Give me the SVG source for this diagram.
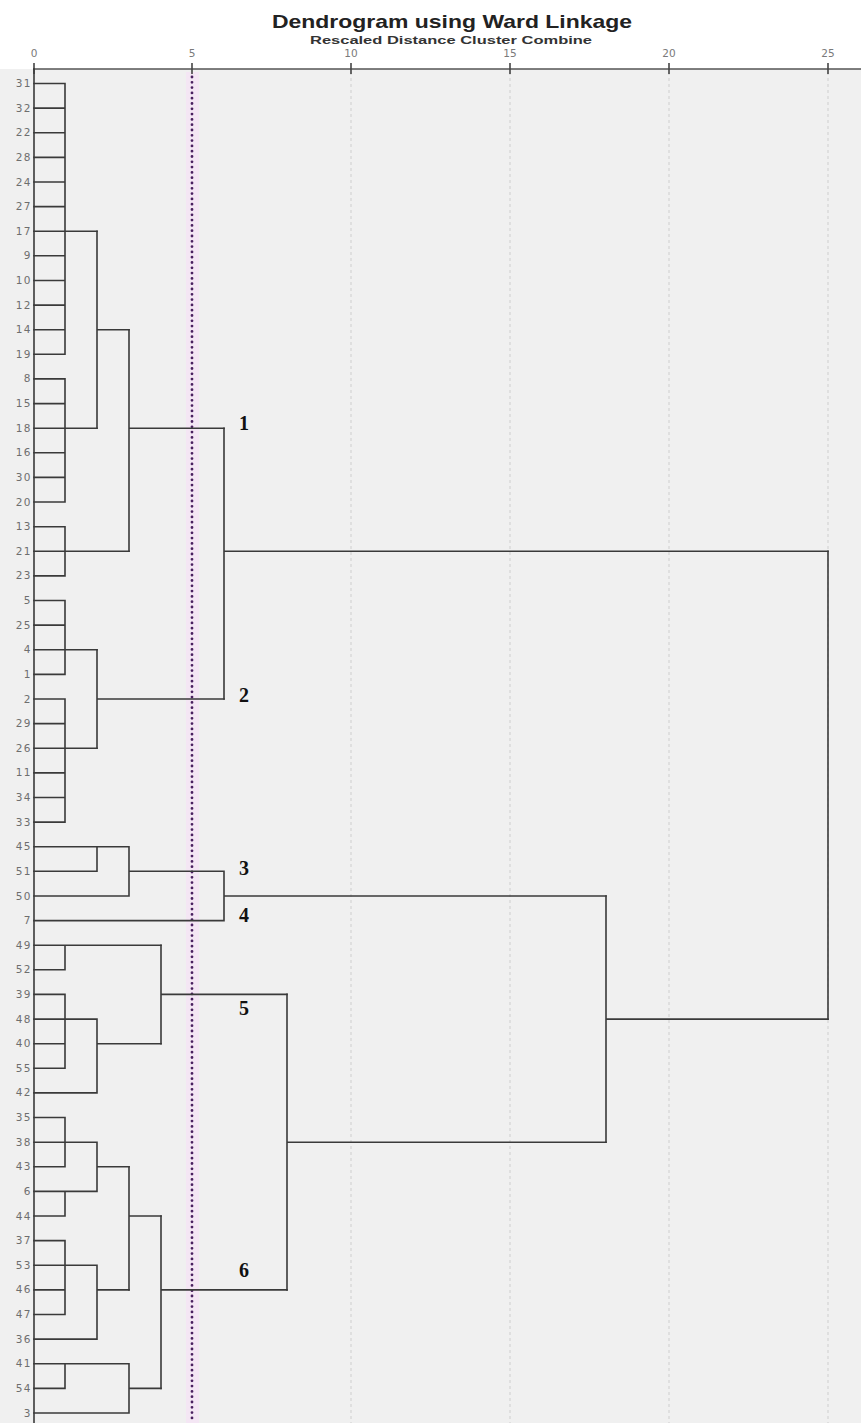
<svg xmlns="http://www.w3.org/2000/svg" width="861" height="1423" viewBox="0 0 861 1423">
<style>
.ln{stroke:#3a3a3a;stroke-width:1.6;fill:none;stroke-linecap:square}
.grid{stroke:#d4d4d4;stroke-width:1.2;stroke-dasharray:3 3;fill:none}
.leaf{font-family:"DejaVu Sans",sans-serif;font-size:10.5px;fill:#6e6e6e;text-anchor:end;letter-spacing:1.5px}
.tick{font-family:"DejaVu Sans",sans-serif;font-size:10.5px;fill:#7a7a7a;text-anchor:middle}
.cl{font-family:"Liberation Serif",serif;font-size:20px;font-weight:bold;fill:#111}
</style>
<rect x="0" y="0" width="861" height="1423" fill="#ffffff"/>
<rect x="0" y="69" width="861" height="1354" fill="#f0f0f0"/>
<g id="title">
<text x="452" y="28" font-family="Liberation Sans,Arial,sans-serif" font-size="19" font-weight="bold" fill="#222" text-anchor="middle" textLength="360" lengthAdjust="spacingAndGlyphs">Dendrogram using Ward Linkage</text>
<text x="451" y="44" font-family="Liberation Sans,Arial,sans-serif" font-size="10" font-weight="bold" fill="#333" text-anchor="middle" textLength="282" lengthAdjust="spacingAndGlyphs">Rescaled Distance Cluster Combine</text>
</g>
<g id="axis">
<line class="grid" x1="351" y1="72" x2="351" y2="1423"/>
<line class="grid" x1="510" y1="72" x2="510" y2="1423"/>
<line class="grid" x1="669" y1="72" x2="669" y2="1423"/>
<line class="grid" x1="828" y1="72" x2="828" y2="1423"/>
<rect x="186" y="72" width="13" height="1351" fill="#f4e6f4"/>
<line x1="33" y1="69" x2="861" y2="69" stroke="#555" stroke-width="1.6"/>
<g stroke="#444" stroke-width="1.6">
<line x1="34" y1="63" x2="34" y2="74"/>
<line x1="192" y1="63" x2="192" y2="74"/>
<line x1="351" y1="63" x2="351" y2="74"/>
<line x1="510" y1="63" x2="510" y2="74"/>
<line x1="669" y1="63" x2="669" y2="74"/>
<line x1="828" y1="63" x2="828" y2="74"/>
</g>
<text class="tick" x="34" y="57">0</text>
<text class="tick" x="192" y="57">5</text>
<text class="tick" x="351" y="57">10</text>
<text class="tick" x="510" y="57">15</text>
<text class="tick" x="669" y="57">20</text>
<text class="tick" x="828" y="57">25</text>
<line x1="192" y1="77" x2="192" y2="1423" stroke="#4a2060" stroke-width="2.8" stroke-linecap="round" stroke-dasharray="0 5.3"/>
</g>
<g id="leaves">
<text class="leaf" x="32" y="87">31</text>
<text class="leaf" x="32" y="111.6">32</text>
<text class="leaf" x="32" y="136.2">22</text>
<text class="leaf" x="32" y="160.9">28</text>
<text class="leaf" x="32" y="185.5">24</text>
<text class="leaf" x="32" y="210.1">27</text>
<text class="leaf" x="32" y="234.7">17</text>
<text class="leaf" x="32" y="259.3">9</text>
<text class="leaf" x="32" y="284">10</text>
<text class="leaf" x="32" y="308.6">12</text>
<text class="leaf" x="32" y="333.2">14</text>
<text class="leaf" x="32" y="357.8">19</text>
<text class="leaf" x="32" y="382.4">8</text>
<text class="leaf" x="32" y="407.1">15</text>
<text class="leaf" x="32" y="431.7">18</text>
<text class="leaf" x="32" y="456.3">16</text>
<text class="leaf" x="32" y="480.9">30</text>
<text class="leaf" x="32" y="505.5">20</text>
<text class="leaf" x="32" y="530.2">13</text>
<text class="leaf" x="32" y="554.8">21</text>
<text class="leaf" x="32" y="579.4">23</text>
<text class="leaf" x="32" y="604">5</text>
<text class="leaf" x="32" y="628.6">25</text>
<text class="leaf" x="32" y="653.3">4</text>
<text class="leaf" x="32" y="677.9">1</text>
<text class="leaf" x="32" y="702.5">2</text>
<text class="leaf" x="32" y="727.1">29</text>
<text class="leaf" x="32" y="751.7">26</text>
<text class="leaf" x="32" y="776.4">11</text>
<text class="leaf" x="32" y="801">34</text>
<text class="leaf" x="32" y="825.6">33</text>
<text class="leaf" x="32" y="850.2">45</text>
<text class="leaf" x="32" y="874.8">51</text>
<text class="leaf" x="32" y="899.5">50</text>
<text class="leaf" x="32" y="924.1">7</text>
<text class="leaf" x="32" y="948.7">49</text>
<text class="leaf" x="32" y="973.3">52</text>
<text class="leaf" x="32" y="997.9">39</text>
<text class="leaf" x="32" y="1022.6">48</text>
<text class="leaf" x="32" y="1047.2">40</text>
<text class="leaf" x="32" y="1071.8">55</text>
<text class="leaf" x="32" y="1096.4">42</text>
<text class="leaf" x="32" y="1121">35</text>
<text class="leaf" x="32" y="1145.7">38</text>
<text class="leaf" x="32" y="1170.3">43</text>
<text class="leaf" x="32" y="1194.9">6</text>
<text class="leaf" x="32" y="1219.5">44</text>
<text class="leaf" x="32" y="1244.1">37</text>
<text class="leaf" x="32" y="1268.8">53</text>
<text class="leaf" x="32" y="1293.4">46</text>
<text class="leaf" x="32" y="1318">47</text>
<text class="leaf" x="32" y="1342.6">36</text>
<text class="leaf" x="32" y="1367.2">41</text>
<text class="leaf" x="32" y="1391.9">54</text>
<text class="leaf" x="32" y="1416.5">3</text>
</g>
<g id="connectors" class="ln">
<line x1="34" y1="69" x2="34" y2="1423"/>
<path d="M34 83.5H65M34 108.1H65M34 132.7H65M34 157.4H65M34 182H65M34 206.6H65M34 231.2H65M34 255.8H65M34 280.5H65M34 305.1H65M34 329.7H65M34 354.3H65M65 83.5V354.3M65 231.2H97"/>
<path d="M34 378.9H65M34 403.6H65M34 428.2H65M34 452.8H65M34 477.4H65M34 502H65M65 378.9V502M65 428.2H97"/>
<path d="M97 231.2V428.2M97 329.7H129"/>
<path d="M34 526.7H65M34 551.3H65M34 575.9H65M65 526.7V575.9M65 551.3H129"/>
<path d="M129 329.7V551.3M129 428.2H224"/>
<path d="M34 600.5H65M34 625.1H65M34 649.8H65M34 674.4H65M65 600.5V674.4M65 649.8H97"/>
<path d="M34 699H65M34 723.6H65M34 748.2H65M34 772.9H65M34 797.5H65M34 822.1H65M65 699V822.1M65 748.2H97"/>
<path d="M97 649.8V748.2M97 699H224"/>
<path d="M224 428.2V699M224 551.3H828"/>
<path d="M34 846.7H129M34 871.3H97M97 846.7V871.3M34 896H129M129 846.7V896M129 871.3H224M34 920.6H224M224 871.3V920.6M224 896H606"/>
<path d="M34 945.2H161M34 969.8H65M65 945.2V969.8"/>
<path d="M34 994.4H65M34 1019.1H97M34 1043.7H65M34 1068.3H65M65 994.4V1068.3M34 1092.9H97M97 1019.1V1092.9M97 1043.7H161"/>
<path d="M161 945.2V1043.7M161 994.4H287"/>
<path d="M34 1117.5H65M34 1142.2H97M34 1166.8H65M65 1117.5V1166.8M34 1191.4H97M34 1216H65M65 1191.4V1216M97 1142.2V1191.4M97 1166.8H129"/>
<path d="M34 1240.6H65M34 1265.3H97M34 1289.9H65M34 1314.5H65M65 1240.6V1314.5M34 1339.1H97M97 1265.3V1339.1M97 1289.9H129"/>
<path d="M129 1166.8V1289.9M129 1216H161"/>
<path d="M34 1363.7H129M34 1388.4H65M65 1363.7V1388.4M34 1413H129M129 1363.7V1413M129 1388.4H161"/>
<path d="M161 1216V1388.4M161 1289.9H287"/>
<path d="M287 994.4V1289.9M287 1142.2H606"/>
<path d="M606 896V1142.2M606 1019.1H828"/>
<path d="M828 551.3V1019.1"/>
</g>
<g id="cluster-1"><text class="cl" x="239" y="430">1</text></g>
<g id="cluster-2"><text class="cl" x="239" y="702">2</text></g>
<g id="cluster-3"><text class="cl" x="239" y="875">3</text></g>
<g id="cluster-4"><text class="cl" x="239" y="922">4</text></g>
<g id="cluster-5"><text class="cl" x="239" y="1015">5</text></g>
<g id="cluster-6"><text class="cl" x="239" y="1277">6</text></g>
</svg>
